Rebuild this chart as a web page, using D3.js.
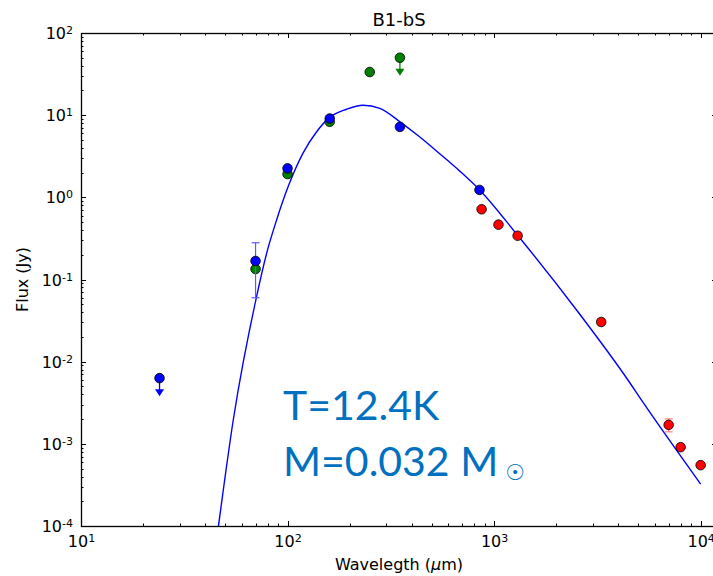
<!DOCTYPE html>
<meta charset="utf-8">
<head>
  <title>B1-bS SED</title>
  <script src="https://d3js.org/d3.v7.min.js"></script>
  <style>
    body { margin: 0; background: #fff; }
    text { font-family: "DejaVu Sans", sans-serif; fill: #000; }
  </style>
</head>
<body>
<div id="display"></div>
<script>

// ---- data ----
var greenWl   = [70, 100, 160, 250];
var greenFlux = [0.134, 1.92, 8.3, 33.5];
var greenLimWl   = [350];
var greenLimFlux = [50];

var blueWl   = [70, 100, 160, 350, 850];
var blueFlux = [0.168, 2.25, 9.1, 7.2, 1.23];
var blueLo   = [0.06, 2.15, 8.6, 7.2, 1.23];
var blueHi   = [0.28, 2.35, 9.7, 7.2, 1.23];
var blueLimWl   = [24];
var blueLimFlux = [6.3e-3];

var redWl   = [870, 1050, 1300, 3300, 7000, 8000, 10000];
var redFlux = [0.715, 0.465, 0.341, 0.0304, 1.70e-3, 9.1e-4, 5.5e-4];
var redLo   = [0.715, 0.465, 0.341, 0.0280, 1.40e-3, 9.1e-4, 5.5e-4];
var redHi   = [0.715, 0.465, 0.341, 0.0330, 2.01e-3, 9.1e-4, 5.5e-4];

// fitted greybody curve, sampled by eye
var modelWl   = [46.3, 54.6, 70.8, 80, 88.5, 100.7, 119, 138, 160, 193, 232, 280, 350, 437, 547, 684, 851, 1305, 2594, 4445, 5164, 10000];
var modelFlux = [1e-4, 1.95e-3, 0.062, 0.229, 0.53, 1.35, 3.47, 6.24, 9.4, 11.8, 13.2, 12.1, 8.3, 5.42, 3.37, 2.07, 1.23, 0.341, 0.038, 5.98e-3, 3.42e-3, 3.24e-4];

var title = "B1-bS";
var xLabel = "Wavelegth (";
var yLabel = "Flux (Jy)";
var noteT = "T=12.4K";
var noteM = "M=0.032 M";

// ---- layout ----
var W = 713, H = 576;
var pLeft = 81, pRight = 717, pTop = 33, pBottom = 526;

var svg = d3.select("#display").append("svg")
  .attr("width", W).attr("height", H);

var x = d3.scaleLog().domain([10, 12000]).range([pLeft, pRight]);
var y = d3.scaleLog().domain([1e-4, 1e2]).range([pBottom, pTop]);

// clip to plotting area
svg.append("clipPath").attr("id", "clip")
  .append("rect").attr("x", pLeft).attr("y", pTop)
  .attr("width", pRight - pLeft).attr("height", pBottom - pTop);

// ---- ticks on all four sides, pointing in ----
var xt = x.ticks().filter(function(d) { return d <= 10000; });
var yt = y.ticks();
function isMajor(d) { return Math.abs(Math.log10(d) - Math.round(Math.log10(d))) < 1e-6; }

var tickG = svg.append("g").attr("stroke", "#000").attr("stroke-width", 1);
xt.forEach(function(d) {
  var len = isMajor(d) ? 5 : 2.5;
  var px = Math.round(x(d)) + 0.5;
  tickG.append("line").attr("x1", px).attr("x2", px).attr("y1", pBottom).attr("y2", pBottom - len);
  tickG.append("line").attr("x1", px).attr("x2", px).attr("y1", pTop).attr("y2", pTop + len);
});
yt.forEach(function(d) {
  var len = isMajor(d) ? 5 : 2.5;
  var py = Math.round(y(d)) + 0.5;
  tickG.append("line").attr("x1", pLeft).attr("x2", pLeft + len).attr("y1", py).attr("y2", py);
  tickG.append("line").attr("x1", pRight).attr("x2", pRight - len).attr("y1", py).attr("y2", py);
});

// frame
svg.append("rect")
  .attr("x", pLeft + 0.5).attr("y", pTop + 0.5)
  .attr("width", pRight - pLeft).attr("height", pBottom - pTop)
  .attr("fill", "none").attr("stroke", "#000").attr("stroke-width", 1.3);

// tick labels
function powLabel(sel, d) {
  var e = Math.round(Math.log10(d));
  sel.append("tspan").text("10");
  sel.append("tspan").attr("dy", "-0.45em").attr("font-size", "11px").text(e);
}
xt.filter(isMajor).forEach(function(d) {
  var t = svg.append("text")
    .attr("x", x(d) + 0.5).attr("y", 547)
    .attr("text-anchor", "middle").attr("font-size", "16px");
  powLabel(t, d);
});
yt.filter(isMajor).forEach(function(d) {
  var t = svg.append("text")
    .attr("x", 73).attr("y", y(d) + 6)
    .attr("text-anchor", "end").attr("font-size", "16px");
  powLabel(t, d);
});

// titles
svg.append("text").attr("x", 399).attr("y", 26)
  .attr("text-anchor", "middle").attr("font-size", "18px").text(title);

var xl = svg.append("text").attr("x", 399).attr("y", 570)
  .attr("text-anchor", "middle").attr("font-size", "16px");
xl.append("tspan").text(xLabel);
xl.append("tspan").attr("font-style", "italic").text("\u03bc");
xl.append("tspan").text("m)");

svg.append("text")
  .attr("transform", "translate(28," + ((pTop + pBottom) / 2) + ") rotate(-90)")
  .attr("text-anchor", "middle").attr("font-size", "16px").text(yLabel);

// ---- model curve ----
var curve = modelWl.map(function(d, i) { return [d, modelFlux[i]]; });
svg.append("path")
  .datum(curve)
  .attr("clip-path", "url(#clip)")
  .attr("fill", "none").attr("stroke", "#0000ff").attr("stroke-width", 1.4)
  .attr("d", d3.line()
    .x(function(d) { return x(d[0]); })
    .y(function(d) { return y(d[1]); })
    .curve(d3.curveMonotoneX));

// ---- points ----
function errorBars(wl, lo, hi, col) {
  var g = svg.append("g").attr("stroke", col).attr("stroke-width", 1.2);
  wl.forEach(function(d, i) {
    if (lo[i] === hi[i]) return;
    var px = x(d);
    g.append("line").attr("x1", px).attr("x2", px).attr("y1", y(lo[i])).attr("y2", y(hi[i]));
    g.append("line").attr("x1", px - 4).attr("x2", px + 4).attr("y1", y(lo[i])).attr("y2", y(lo[i]));
    g.append("line").attr("x1", px - 4).attr("x2", px + 4).attr("y1", y(hi[i])).attr("y2", y(hi[i]));
  });
}
function upperLimits(wl, flux, col) {
  var g = svg.append("g");
  wl.forEach(function(d, i) {
    var px = x(d), py = y(flux[i]);
    g.append("line").attr("x1", px).attr("x2", px).attr("y1", py).attr("y2", py + 12)
      .attr("stroke", col).attr("stroke-width", 1.3);
    g.append("path")
      .attr("d", "M" + (px - 4.5) + "," + (py + 11) + "L" + (px + 4.5) + "," + (py + 11) + "L" + px + "," + (py + 18) + "Z")
      .attr("fill", col);
  });
}
function markers(wl, flux, col) {
  svg.append("g").selectAll("circle")
    .data(wl)
    .enter().append("circle")
      .attr("cx", function(d) { return x(d); })
      .attr("cy", function(d, i) { return y(flux[i]); })
      .attr("r", 4.8)
      .attr("fill", col)
      .attr("stroke", "#000").attr("stroke-width", 0.8);
}

upperLimits(greenLimWl, greenLimFlux, "#008000");
markers(greenWl, greenFlux, "#008000");
markers(greenLimWl, greenLimFlux, "#008000");

errorBars(blueWl, blueLo, blueHi, "#5a5aff");
upperLimits(blueLimWl, blueLimFlux, "#0000ff");
markers(blueWl, blueFlux, "#0000ff");
markers(blueLimWl, blueLimFlux, "#0000ff");

errorBars(redWl, redLo, redHi, "#ff8080");
markers(redWl, redFlux, "#ff0000");

// ---- annotation ----
var note = svg.append("g");
note.append("text").attr("x", 283).attr("y", 420)
  .attr("font-size", "41px").style("fill", "#0070c0").style("font-family", "Lato, sans-serif").text(noteT);
var m = note.append("text").attr("x", 283).attr("y", 476)
  .attr("font-size", "41px").style("fill", "#0070c0").style("font-family", "Lato, sans-serif");
m.append("tspan").text(noteM);
m.append("tspan").attr("dx", "7").attr("dy", "0.2em").attr("font-size", "22px")
  .style("font-family", "DejaVu Sans").style("font-weight", "bold").text("\u2609");

</script>
</body>
